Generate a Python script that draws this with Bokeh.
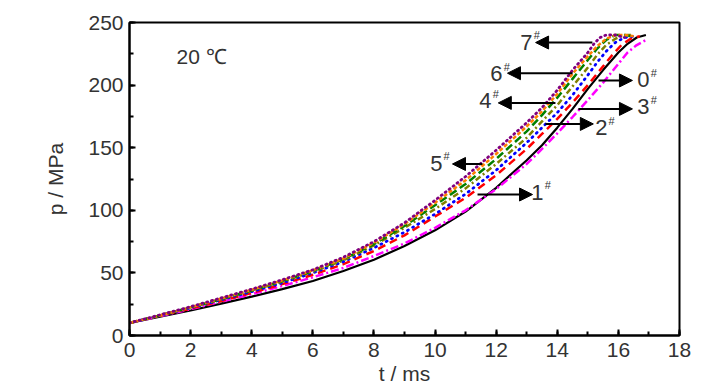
from bokeh.plotting import figure
from bokeh.models import Label, Arrow, NormalHead, SingleIntervalTicker, Range1d
from bokeh.embed import file_html
from bokeh.resources import INLINE

# ---- data ----
t_lo = [0, 1, 2, 3, 4, 5, 6, 7, 8, 9, 10, 11, 12, 13]

s0_lo = [10, 15, 20, 25.5, 31, 37, 43.5, 51.5, 60.5, 71.5, 84, 99, 118, 140]
s0_t_hi = [13.5, 14, 14.5, 15, 15.5, 16, 16.3, 16.6, 16.9]
s0_p_hi = [152, 166, 181, 197, 212, 226, 233, 238, 240]

s3_lo = [10, 15.5, 21, 27, 33, 39.5, 46.5, 54, 63.5, 73.5, 86, 100, 117, 137]
s3_t_hi = [13.5, 14, 14.5, 15, 15.5, 16, 16.3, 16.6, 16.9]
s3_p_hi = [149, 161.5, 174.5, 188, 202, 217, 226, 232, 236]

s1_lo = [10, 16, 21.5, 27.5, 34, 41, 48.5, 57, 67.5, 80, 95, 110, 128, 149]
s1_t_hi = [13.5, 14, 14.5, 15, 15.5, 15.8, 16.1, 16.4, 16.7]
s1_p_hi = [161, 173, 186, 200, 215, 224, 232, 237, 239]

s2_lo = [10, 16, 22, 28.5, 35, 42, 50, 59, 70, 82.5, 97, 113, 132, 154]
s2_t_hi = [13.5, 14, 14.5, 15, 15.3, 15.6, 15.9, 16.2, 16.5]
s2_p_hi = [166, 178, 192, 208, 218, 227, 234, 238, 239]

s4_lo = [10, 16, 22.5, 29, 36, 43, 51, 60, 72, 86, 101, 117.5, 137, 158]
s4_t_hi = [13.5, 14, 14.5, 15, 15.3, 15.6, 15.9, 16.2, 16.5]
s4_p_hi = [171, 184, 199, 214, 224, 232, 237, 240, 240]

s6_lo = [10, 16, 22.5, 29, 36, 43.5, 51.5, 61, 73, 87.5, 104, 121, 141, 163]
s6_t_hi = [13.5, 14, 14.5, 15, 15.3, 15.6, 15.9, 16.2, 16.4]
s6_p_hi = [176, 190, 205, 220, 229, 236, 240, 240, 239]

s5_lo = [10, 16, 22.5, 29.5, 36.5, 44, 52, 61.5, 74, 89, 106, 124, 145, 167]
s5_t_hi = [13.5, 14, 14.5, 15, 15.3, 15.6, 15.9, 16.2, 16.5]
s5_p_hi = [179, 193, 209, 223, 231, 237, 240, 240, 239]

s7_lo = [10, 16.5, 23, 30, 37, 44.5, 52.5, 62.5, 75, 90, 108, 127, 148, 170]
s7_t_hi = [13.5, 14, 14.5, 15, 15.2, 15.4, 15.6, 15.9, 16.2]
s7_p_hi = [182, 196, 212, 226, 233, 238, 240, 240, 238]

x_ticks_interval = 2
y_ticks_interval = 50

# series: (label, lo, t_hi, p_hi, color, dash, cap, width)
series = [
    ("0", s0_lo, s0_t_hi, s0_p_hi, "#000000", "solid", "butt", 2.2),
    ("3", s3_lo, s3_t_hi, s3_p_hi, "#ff00ff", "8 3 2 3", "butt", 2.5),
    ("1", s1_lo, s1_t_hi, s1_p_hi, "#ff0000", "8 5", "butt", 2.5),
    ("2", s2_lo, s2_t_hi, s2_p_hi, "#0000ff", "1 5", "round", 2.8),
    ("4", s4_lo, s4_t_hi, s4_p_hi, "#808000", "6 3 2 3", "butt", 2.5),
    ("6", s6_lo, s6_t_hi, s6_p_hi, "#008000", "8 4", "butt", 2.5),
    ("5", s5_lo, s5_t_hi, s5_p_hi, "#ff8000", "4 2", "butt", 2.5),
    ("7", s7_lo, s7_t_hi, s7_p_hi, "#800080", "1 4", "round", 2.8),
]

# label annotations: name, digit right-edge x, center y (data)
tag_names = ["7", "6", "4", "5", "1", "2", "0", "3"]
tag_x = [13.19, 12.21, 11.85, 10.24, 13.55, 15.64, 17.02, 17.02]
tag_y = [234.3, 209.0, 187.7, 137.6, 114.5, 165.9, 204.2, 182.9]

# arrows: start (tail, on curve) -> end (head)
arr_x0 = [15.15, 14.50, 13.94, 11.55, 11.39, 13.61, 15.35, 14.69]
arr_x1 = [13.29, 12.37, 12.07, 10.57, 13.19, 15.18, 16.46, 16.46]
arr_y = [234.0, 209.5, 185.8, 137.0, 112.6, 169.0, 203.7, 181.0]

FONT = "Liberation Sans"
TXT = "#333333"

p = figure(width=711, height=388, x_range=Range1d(0, 18), y_range=Range1d(0, 250),
           output_backend="svg", toolbar_location=None,
           min_border_left=129, min_border_right=32, min_border_top=22, min_border_bottom=53)
p.grid.visible = False
p.outline_line_color = "black"
p.outline_line_width = 2
p.background_fill_color = "white"
p.border_fill_color = "white"

p.xaxis.ticker = SingleIntervalTicker(interval=x_ticks_interval, num_minor_ticks=2)
p.yaxis.ticker = SingleIntervalTicker(interval=y_ticks_interval, num_minor_ticks=2)
for ax in (p.xaxis, p.yaxis):
    ax.axis_line_width = 2
    ax.axis_line_color = "black"
    ax.major_tick_in = 6
    ax.major_tick_out = 0
    ax.minor_tick_in = 4
    ax.minor_tick_out = 0
    ax.major_tick_line_width = 2
    ax.minor_tick_line_width = 2
    ax.major_label_text_font = FONT
    ax.major_label_text_font_size = "21px"
    ax.major_label_text_color = TXT
    ax.axis_label_text_font = FONT
    ax.axis_label_text_font_size = "21px"
    ax.axis_label_text_font_style = "normal"
    ax.axis_label_text_color = TXT
p.xaxis.major_label_standoff = 7
p.yaxis.major_label_standoff = 6

p.yaxis.axis_label = "p / MPa"
p.yaxis.axis_label_standoff = 18
p.xaxis.axis_label = "t / ms"
p.xaxis.axis_label_standoff = 2

for name, lo, thi, phi, col, dash, cap, lw in series:
    p.line(t_lo + thi, lo + phi, line_color=col, line_width=lw, line_dash=dash, line_cap=cap)

for x0, x1, y in zip(arr_x0, arr_x1, arr_y):
    p.add_layout(Arrow(end=NormalHead(size=13, fill_color="black", line_color="black", line_width=1),
                       x_start=x0, y_start=y, x_end=x1, y_end=y,
                       line_color="black", line_width=2))

for n, x, y in zip(tag_names, tag_x, tag_y):
    p.add_layout(Label(x=x, y=y, text=n, text_align="right", text_baseline="middle",
                       text_font=FONT, text_font_size="22px", text_color=TXT))
    p.add_layout(Label(x=x + 0.04, y=y + 5.5, text="#", text_align="left", text_baseline="middle",
                       text_font=FONT, text_font_size="11px", text_color=TXT))

p.add_layout(Label(x=1.54, y=222.8, text="20 \u2103", text_align="left", text_baseline="middle",
                   text_font=FONT, text_font_size="21px", text_color=TXT))

open("out.html", "w").write(file_html(p, INLINE))
